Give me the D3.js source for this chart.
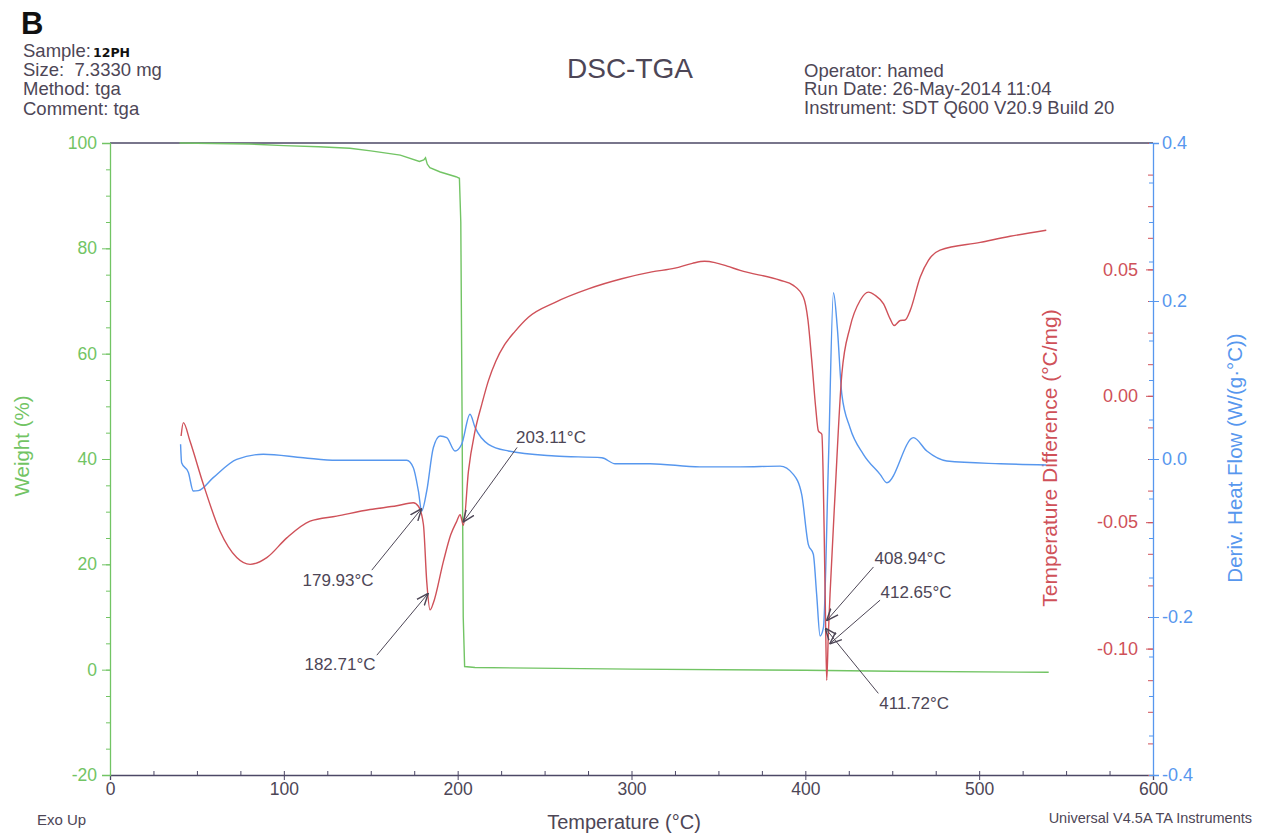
<!DOCTYPE html>
<html>
<head>
<meta charset="utf-8">
<script src="https://cdn.jsdelivr.net/npm/d3@7"></script>
<style>
  body { margin: 0; background: #fff; }
  svg text { font-family: "Liberation Sans", Arial, sans-serif; white-space: pre; }
</style>
</head>
<body>
<div id="chart"></div>
<script>
// weight curve (TGA)
var weightT   = [40, 60, 80, 100, 120, 138, 150, 167, 178, 180.5, 181.5, 182.5, 184, 190, 199, 201, 201.8, 202.5, 203.2, 204, 210, 300, 400, 450, 540];
var weightPct = [100, 99.9, 99.8, 99.5, 99.3, 99.0, 98.5, 97.7, 96.5, 96.8, 97.2, 96.0, 95.3, 94.5, 93.6, 93.3, 85, 50, 10, 0.6, 0.4, 0.1, -0.1, -0.3, -0.5];

// temperature difference (red)
var diffT   = [40.9, 42.2, 46, 53.7, 63.3, 72.9, 80.6, 90.2, 101.7, 115.1, 130.4, 149.6, 165, 174.5, 177.4, 180.3, 182.2, 184.1, 186, 191.8, 196, 199.5, 201.4, 203.3, 206.2, 210, 213.9, 217.7, 222, 227, 233, 240.7, 256.1, 275.2, 294.4, 311.7, 325, 335, 342, 348, 355, 362.5, 385.5, 393.1, 398.9, 401.5, 403.7, 406, 407.5, 409.5, 410.8, 411.7, 412.3, 413.2, 414.2, 417.1, 421, 425.7, 431.5, 436.3, 440.2, 445, 448.8, 451.1, 454.6, 457.4, 460.3, 466.1, 470.8, 477.5, 500.6, 517.8, 538.6];
var diffVal = [-0.0159, -0.0106, -0.0179, -0.035, -0.0536, -0.064, -0.0667, -0.064, -0.0562, -0.0496, -0.0476, -0.045, -0.0435, -0.0423, -0.0437, -0.0509, -0.0734, -0.0847, -0.082, -0.0655, -0.055, -0.0496, -0.047, -0.0512, -0.0298, -0.0139, -0.0033, 0.006, 0.0138, 0.0202, 0.0255, 0.0311, 0.037, 0.0423, 0.0463, 0.049, 0.0505, 0.0524, 0.0532, 0.0527, 0.0513, 0.0496, 0.0457, 0.0437, 0.039, 0.030, 0.0139, -0.005, -0.0139, -0.0152, -0.0523, -0.092, -0.1125, -0.095, -0.0787, -0.039, 0.0086, 0.0271, 0.0377, 0.041, 0.0397, 0.0364, 0.0304, 0.0278, 0.0298, 0.030, 0.0337, 0.047, 0.0536, 0.0576, 0.0607, 0.0631, 0.0655];

// deriv. heat flow (blue)
var flowT   = [40.6, 41.2, 45.1, 47.9, 50.8, 59.4, 72.9, 88.2, 111.2, 130.4, 150, 170.7, 174.5, 177.4, 179.3, 182.2, 186, 189.9, 193.7, 198.5, 202.3, 207.1, 210, 217.7, 229.2, 256, 282.9, 290.6, 310.7, 339.4, 362.5, 385.5, 393.1, 397.9, 401.7, 404.6, 406.5, 408.5, 410.4, 413.3, 416.2, 418.4, 421, 425.7, 433.4, 443, 446.9, 462.2, 469.9, 481.4, 512.2, 538.6];
var flowVal = [0.0186, -0.0047, -0.017, -0.0405, -0.040, -0.0236, -0.0004, 0.006, 0.0016, -0.0016, -0.0016, -0.0016, -0.011, -0.0405, -0.0658, -0.0405, 0.0143, 0.0291, 0.027, 0.0101, 0.0186, 0.0566, 0.040, 0.0186, 0.0101, 0.0038, 0.0016, -0.006, -0.006, -0.010, -0.010, -0.009, -0.0194, -0.0447, -0.108, -0.1206, -0.171, -0.224, -0.2135, -0.0025, 0.2105, 0.166, 0.0819, 0.0396, 0.006, -0.0194, -0.030, 0.027, 0.0101, -0.0025, -0.006, -0.0076];

// tick labels
var tempTicks   = [0, 100, 200, 300, 400, 500, 600];
var weightTicks = [-20, 0, 20, 40, 60, 80, 100];
var diffTicks   = [0.05, 0.00, -0.05, -0.10];
var flowTicks   = [0.4, 0.2, 0.0, -0.2, -0.4];

// peak annotations: label, arrow tip (T, weight), line start (T, weight), text (T, weight)
var peakLabels = ["179.93°C", "182.71°C", "203.11°C", "408.94°C", "412.65°C", "411.72°C"];
var tipT    = [179.3, 183.1, 203.1, 412.2, 414.0, 411.4];
var tipW    = [30.6, 14.5, 28.0, 9.3, 4.9, 7.9];
var startT  = [150.6, 153.5, 234.2, 439.2, 443.0, 442.0];
var startW  = [18.9, 2.75, 42.2, 19.5, 13.2, -4.5];
var textT   = [131.2, 132.3, 253.7, 460.3, 463.7, 462.6];
var textW   = [17.0, 1.0, 44.1, 21.2, 14.7, -6.4];

var green = "#72c464", red = "#cf5159", blue = "#5797ee", ink = "#4d4656", frame = "#4c4866";

// hyphen minus like the instrument printout
function hyphen(f) { return function(d) { return f(d).replace("\u2212", "-"); }; }

// set the dimensions of the canvas
var margin = {top: 143, right: 115, bottom: 59, left: 110},
    width = 1268 - margin.left - margin.right,
    height = 834 - margin.top - margin.bottom;

var x  = d3.scaleLinear().domain([0, 600]).range([0, width]);
var yW = d3.scaleLinear().domain([-20, 100]).range([height, 0]);
var yD = d3.scaleLinear().domain([-0.15, 0.1]).range([height, 0]);
var yH = d3.scaleLinear().domain([-0.4, 0.4]).range([height, 0]);

var svg = d3.select("#chart")
  .append("svg")
  .attr("width", 1268)
  .attr("height", 834);

var g = svg.append("g")
  .attr("transform", "translate(" + margin.left + "," + margin.top + ")");

// header text
svg.append("text").attr("x", 21).attr("y", 34)
  .style("font-size", "31px").style("font-weight", "bold").attr("fill", "#111").text("B");

var leftHead = ["Sample:", "Size:  7.3330 mg", "Method: tga", "Comment: tga"];
svg.selectAll(".lh").data(leftHead).enter().append("text")
  .attr("class", "lh")
  .attr("x", 23)
  .attr("y", function(d, i) { return 57 + i * 19.2; })
  .style("font-size", "18.5px").attr("fill", ink)
  .text(function(d) { return d; });
svg.append("text").attr("x", 93).attr("y", 57)
  .style("font-size", "12.5px").style("font-weight", "bold")
  .style("font-family", "'DejaVu Sans', sans-serif").attr("fill", "#111").text("12PH");

svg.append("text").attr("x", 630).attr("y", 78)
  .attr("text-anchor", "middle").style("font-size", "28px").attr("fill", ink).text("DSC-TGA");

var rightHead = ["Operator: hamed", "Run Date: 26-May-2014 11:04", "Instrument: SDT Q600 V20.9 Build 20"];
svg.selectAll(".rh").data(rightHead).enter().append("text")
  .attr("class", "rh")
  .attr("x", 804)
  .attr("y", function(d, i) { return 76.5 + i * 18.6; })
  .style("font-size", "18.5px").attr("fill", ink)
  .text(function(d) { return d; });

// frame top line
g.append("line").attr("x1", 0).attr("x2", width).attr("y1", 0).attr("y2", 0)
  .attr("stroke", frame).attr("stroke-width", 1.3);

// x axis
var xMinor = g.append("g").attr("transform", "translate(0," + height + ")")
  .call(d3.axisBottom(x).tickValues(d3.range(0, 601, 25)).tickSize(-4).tickFormat(""));
xMinor.select(".domain").remove();
xMinor.selectAll("line").attr("stroke", frame);

var xAxis = g.append("g").attr("transform", "translate(0," + height + ")")
  .call(d3.axisBottom(x).tickValues(tempTicks).tickSize(5).tickPadding(3));
xAxis.select(".domain").attr("stroke", frame).attr("stroke-width", 1.3);
xAxis.selectAll("line").attr("stroke", frame);
xAxis.selectAll("text").style("font-size", "17.5px").attr("fill", ink);

// left weight axis
var wMinor = g.append("g")
  .call(d3.axisLeft(yW).tickValues(d3.range(-20, 101, 5)).tickSize(4).tickFormat(""));
wMinor.select(".domain").remove();
wMinor.selectAll("line").attr("stroke", green);

var wAxis = g.append("g")
  .call(d3.axisLeft(yW).tickValues(weightTicks).tickSize(8).tickPadding(5).tickFormat(hyphen(d3.format("d"))));
wAxis.select(".domain").attr("stroke", green).attr("stroke-width", 1.3);
wAxis.selectAll("line").attr("stroke", green);
wAxis.selectAll("text").style("font-size", "17.5px").attr("fill", green);

// right temperature difference axis (red)
var dMinor = g.append("g").attr("transform", "translate(" + width + ",0)")
  .call(d3.axisLeft(yD).tickValues(d3.range(-0.15, 0.1001, 0.0125)).tickSize(5).tickFormat(""));
dMinor.select(".domain").remove();
dMinor.selectAll("line").attr("stroke", red);

var dAxis = g.append("g").attr("transform", "translate(" + width + ",0)")
  .call(d3.axisLeft(yD).tickValues(diffTicks).tickSize(7).tickPadding(8).tickFormat(hyphen(d3.format(".2f"))));
dAxis.select(".domain").remove();
dAxis.selectAll("line").attr("stroke", red);
dAxis.selectAll("text").style("font-size", "18px").attr("fill", red);

// right heat flow axis (blue)
var hMinor = g.append("g").attr("transform", "translate(" + width + ",0)")
  .call(d3.axisLeft(yH).tickValues(d3.range(-0.4, 0.401, 0.05)).tickSize(4).tickFormat(""));
hMinor.select(".domain").remove();
hMinor.selectAll("line").attr("stroke", blue);

var hAxis = g.append("g").attr("transform", "translate(" + width + ",0)")
  .call(d3.axisRight(yH).tickValues(flowTicks).tickSize(6).tickPadding(3).tickFormat(hyphen(d3.format(".1f"))));
hAxis.select(".domain").attr("stroke", blue).attr("stroke-width", 1.3);
hAxis.selectAll("line").attr("stroke", blue);
hAxis.selectAll("text").style("font-size", "18px").attr("fill", blue);

// axis titles
g.append("text")
  .attr("transform", "translate(" + (-81) + "," + (height / 2 - 13) + ") rotate(-90)")
  .attr("text-anchor", "middle").style("font-size", "20.5px").attr("fill", green).text("Weight (%)");
g.append("text")
  .attr("transform", "translate(" + (width - 96) + "," + (height / 2 - 1) + ") rotate(-90)")
  .attr("text-anchor", "middle").style("font-size", "21px").attr("fill", red).text("Temperature Difference (°C/mg)");
g.append("text")
  .attr("transform", "translate(" + (width + 89) + "," + (height / 2 - 1) + ") rotate(-90)")
  .attr("text-anchor", "middle").style("font-size", "20.5px").attr("fill", blue).text("Deriv. Heat Flow (W/(g·°C))");
svg.append("text").attr("x", 624).attr("y", 829)
  .attr("text-anchor", "middle").style("font-size", "20px").attr("fill", ink).text("Temperature (°C)");
svg.append("text").attr("x", 37).attr("y", 825)
  .style("font-size", "15px").attr("fill", ink).text("Exo Up");
svg.append("text").attr("x", 1252).attr("y", 823)
  .attr("text-anchor", "end").style("font-size", "14.5px").attr("fill", ink).text("Universal V4.5A TA Instruments");

// curves
var weightData = weightT.map(function(t, i) { return {t: t, v: weightPct[i]}; });
var diffData   = diffT.map(function(t, i) { return {t: t, v: diffVal[i]}; });
var flowData   = flowT.map(function(t, i) { return {t: t, v: flowVal[i]}; });

var weightLine = d3.line().x(function(d) { return x(d.t); }).y(function(d) { return yW(d.v); });
var diffLine = d3.line().curve(d3.curveMonotoneX)
  .x(function(d) { return x(d.t); }).y(function(d) { return yD(d.v); });
var flowLine = d3.line().curve(d3.curveMonotoneX)
  .x(function(d) { return x(d.t); }).y(function(d) { return yH(d.v); });

g.append("path").datum(weightData).attr("d", weightLine)
  .attr("fill", "none").attr("stroke", green).attr("stroke-width", 1.4);
g.append("path").datum(flowData).attr("d", flowLine)
  .attr("fill", "none").attr("stroke", blue).attr("stroke-width", 1.4);
g.append("path").datum(diffData).attr("d", diffLine)
  .attr("fill", "none").attr("stroke", red).attr("stroke-width", 1.4);

// arrow marker
svg.append("defs").append("marker")
  .attr("id", "arrow").attr("viewBox", "0 0 10 10")
  .attr("refX", 10).attr("refY", 5)
  .attr("markerWidth", 12).attr("markerHeight", 12)
  .attr("markerUnits", "userSpaceOnUse")
  .attr("orient", "auto")
  .append("path").attr("d", "M0,1 L10,5 L0,9")
  .attr("fill", "none").attr("stroke", ink).attr("stroke-width", 1.2);

// annotations
var notes = peakLabels.map(function(l, i) {
  return {label: l, tt: tipT[i], tw: tipW[i], st: startT[i], sw: startW[i], xt: textT[i], xw: textW[i]};
});

g.selectAll(".note-line").data(notes).enter().append("line")
  .attr("class", "note-line")
  .attr("x1", function(d) { return x(d.st); })
  .attr("y1", function(d) { return yW(d.sw); })
  .attr("x2", function(d) { return x(d.tt); })
  .attr("y2", function(d) { return yW(d.tw); })
  .attr("stroke", ink).attr("stroke-width", 1)
  .attr("marker-end", "url(#arrow)");

g.selectAll(".note-text").data(notes).enter().append("text")
  .attr("class", "note-text")
  .attr("x", function(d) { return x(d.xt); })
  .attr("y", function(d) { return yW(d.xw); })
  .attr("dy", "0.35em")
  .attr("text-anchor", "middle")
  .style("font-size", "17px").attr("fill", ink)
  .text(function(d) { return d.label; });
</script>
</body>
</html>
